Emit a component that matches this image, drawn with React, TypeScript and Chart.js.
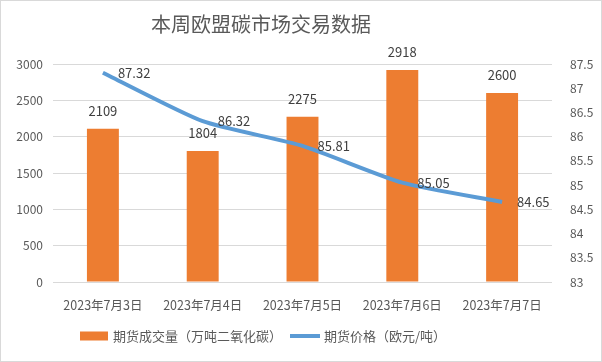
import React, { useEffect, useRef } from "react";
import { Chart, registerables } from "chart.js";

Chart.register(...registerables);

const categories = ["2023年7月3日", "2023年7月4日", "2023年7月5日", "2023年7月6日", "2023年7月7日"];
const volumeValues = [2109, 1804, 2275, 2918, 2600];
const priceValues = [87.32, 86.32, 85.81, 85.05, 84.65];
const titleText = "本周欧盟碳市场交易数据";
const volumeLabel = "期货成交量（万吨二氧化碳）";
const priceLabel = "期货价格（欧元/吨）";

const FONT = '"Noto Sans CJK SC", "Noto Sans", sans-serif';
const BAR_COLOR = "#ED7D31";
const LINE_COLOR = "#5B9BD5";

const decorPlugin = {
  id: "decor",
  beforeDraw(chart: any) {
    const ctx = chart.ctx;
    ctx.save();
    ctx.fillStyle = "#ffffff";
    ctx.fillRect(0, 0, chart.width, chart.height);
    ctx.strokeStyle = "#D9D9D9";
    ctx.lineWidth = 1;
    ctx.strokeRect(0.5, 0.5, chart.width - 1, chart.height - 1);
    ctx.fillStyle = "#595959";
    ctx.font = `20px ${FONT}`;
    ctx.textAlign = "center";
    ctx.textBaseline = "middle";
    ctx.fillText(titleText, 261, 24);

    // legend
    const ly = 336;
    ctx.font = `13px ${FONT}`;
    ctx.textAlign = "left";
    ctx.fillStyle = BAR_COLOR;
    ctx.fillRect(80, ly - 4.5, 28, 9);
    ctx.fillStyle = "#595959";
    ctx.fillText(volumeLabel, 113, ly);
    const w1 = ctx.measureText(volumeLabel).width;
    const lx = 113 + w1 + 8;
    ctx.strokeStyle = LINE_COLOR;
    ctx.lineWidth = 4;
    ctx.beginPath();
    ctx.moveTo(lx, ly);
    ctx.lineTo(lx + 30, ly);
    ctx.stroke();
    ctx.fillText(priceLabel, lx + 34, ly);
    ctx.restore();
  },
  afterDatasetsDraw(chart: any) {
    const ctx = chart.ctx;
    ctx.save();
    ctx.fillStyle = "#404040";
    ctx.font = `13px ${FONT}`;
    ctx.textBaseline = "middle";
    const barMeta = chart.getDatasetMeta(0);
    ctx.textAlign = "center";
    barMeta.data.forEach((el: any, i: number) => {
      ctx.fillText(String(volumeValues[i]), el.x, el.y - 18);
    });
    const lineMeta = chart.getDatasetMeta(1);
    ctx.textAlign = "left";
    lineMeta.data.forEach((el: any, i: number) => {
      ctx.fillText(priceValues[i].toFixed(2), el.x + 15, el.y);
    });
    ctx.restore();
  },
};

export default function App() {
  const ref = useRef<HTMLCanvasElement | null>(null);
  useEffect(() => {
    document.body.style.margin = "0";
    const chart = new Chart(ref.current as HTMLCanvasElement, {
      type: "bar",
      data: {
        labels: categories,
        datasets: [
          {
            type: "bar",
            label: volumeLabel,
            data: volumeValues,
            backgroundColor: BAR_COLOR,
            borderWidth: 0,
            yAxisID: "y",
            barPercentage: 0.64,
            categoryPercentage: 0.5,
            order: 2,
          } as any,
          {
            type: "line",
            label: priceLabel,
            data: priceValues,
            borderColor: LINE_COLOR,
            backgroundColor: LINE_COLOR,
            borderWidth: 4,
            pointRadius: 0,
            tension: 0.2,
            yAxisID: "y1",
            order: 1,
          } as any,
        ],
      },
      options: {
        animation: false,
        responsive: false,
        maintainAspectRatio: false,
        layout: { padding: { top: 64, left: 8, right: 8, bottom: 45 } },
        plugins: {
          title: { display: false },
          tooltip: { enabled: false },
          legend: { display: false },
        },
        scales: {
          x: {
            grid: { display: false },
            border: { display: false },
            ticks: { color: "#595959", font: { family: FONT, size: 12.5 }, padding: 8, maxRotation: 0 },
            afterFit: (s: any) => { s.height = 35; },
          },
          y: {
            position: "left",
            min: 0,
            max: 3000,
            ticks: {
              stepSize: 500,
              color: "#595959",
              font: { family: FONT, size: 12 },
              padding: 10,
              callback: (v: any) => String(v),
            },
            grid: { color: "#D9D9D9", drawTicks: false },
            border: { display: false },
            afterFit: (s: any) => { s.width = 45; },
          },
          y1: {
            position: "right",
            min: 83,
            max: 87.5,
            ticks: {
              stepSize: 0.5,
              color: "#595959",
              font: { family: FONT, size: 12 },
              padding: 10,
              callback: (v: any) => String(Math.round(Number(v) * 10) / 10),
            },
            grid: { display: false },
            border: { display: false },
            afterFit: (s: any) => { s.width = 42; },
          },
        },
      } as any,
      plugins: [decorPlugin],
    });
    return () => chart.destroy();
  }, []);
  return (
    <div style={{ width: 602, height: 362, position: "relative" }}>
      <canvas ref={ref} width={602} height={362} style={{ display: "block" }} />
    </div>
  );
}
